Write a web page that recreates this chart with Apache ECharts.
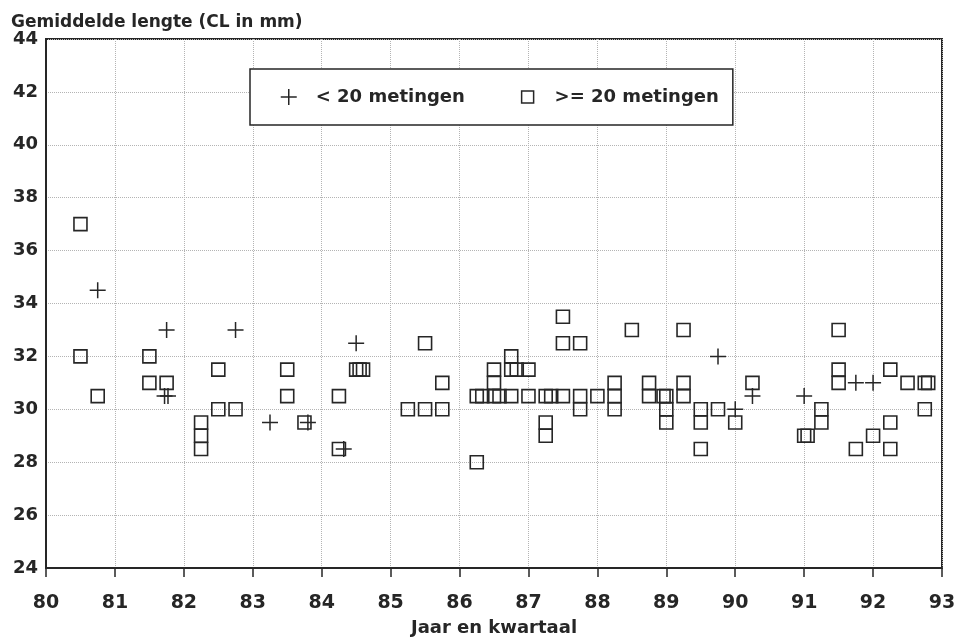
<!DOCTYPE html>
<html>
<head>
<meta charset="utf-8">
<title>Gemiddelde lengte</title>
<script src="https://cdn.jsdelivr.net/npm/echarts@6/dist/echarts.min.js"></script>
<style>
  html, body { margin: 0; padding: 0; background: #ffffff; }
  #chart { width: 963px; height: 642px; }
</style>
</head>
<body>
<div id="chart"></div>
<script>
// Quarterly mean carapace length (CL, mm); x = year + quarter fraction.
const xTicks = [80, 81, 82, 83, 84, 85, 86, 87, 88, 89, 90, 91, 92, 93];
const yTicks = [24, 26, 28, 30, 32, 34, 36, 38, 40, 42, 44];

// samples with fewer than 20 measurements
const fewMeasurements = [
  [80.75, 34.5], [81.75, 33], [81.72, 30.5], [81.77, 30.5], [82.75, 33],
  [83.25, 29.5], [83.8, 29.5], [84.32, 28.5], [84.5, 32.5],
  [89.75, 32], [90, 30], [90.25, 30.5], [91, 30.5], [91.75, 31], [92, 31]
];

// samples with 20 or more measurements
const manyMeasurements = [
  [80.5, 37], [80.5, 32], [80.75, 30.5],
  [81.5, 32], [81.5, 31], [81.75, 31],
  [82.25, 29.5], [82.25, 29], [82.25, 28.5], [82.5, 31.5], [82.5, 30], [82.75, 30],
  [83.5, 31.5], [83.5, 30.5], [83.75, 29.5],
  [84.25, 30.5], [84.25, 28.5], [84.5, 31.5], [84.55, 31.5], [84.6, 31.5],
  [85.25, 30], [85.5, 32.5], [85.5, 30], [85.75, 31], [85.75, 30],
  [86.25, 28], [86.25, 30.5], [86.33, 30.5], [86.5, 31.5], [86.5, 31], [86.5, 30.5],
  [86.58, 30.5], [86.75, 32], [86.75, 31.5], [86.75, 30.5], [86.83, 31.5],
  [87, 31.5], [87, 30.5], [87.25, 30.5], [87.25, 29.5], [87.25, 29], [87.33, 30.5],
  [87.5, 33.5], [87.5, 32.5], [87.5, 30.5], [87.75, 32.5], [87.75, 30.5], [87.75, 30],
  [88, 30.5], [88.25, 31], [88.25, 30.5], [88.25, 30], [88.5, 33],
  [88.75, 31], [88.75, 30.5], [88.96, 30.5], [89, 30.5], [89, 30], [89, 29.5],
  [89.25, 33], [89.25, 31], [89.25, 30.5], [89.5, 30], [89.5, 29.5], [89.5, 28.5],
  [89.75, 30], [90, 29.5], [90.25, 31],
  [91, 29], [91.05, 29], [91.25, 30], [91.25, 29.5],
  [91.5, 33], [91.5, 31.5], [91.5, 31], [91.75, 28.5], [92, 29],
  [92.25, 31.5], [92.25, 29.5], [92.25, 28.5], [92.5, 31],
  [92.75, 31], [92.8, 31], [92.75, 30]
];

const seriesNames = ['< 20 metingen', '>= 20 metingen'];

const ink = '#262626';
const gridInk = '#b4b4b4';
const font = 'DejaVu Sans';
const plusPath = 'path://M0,6L12,6M6,0L6,12';
const squarePath = 'path://M0,0L12,0L12,12L0,12Z';
// legend square: outer move-to keeps a margin so the drawn box stays smaller
const legendSquarePath = 'path://M0,0M16,16M2,2L14,2L14,14L2,14Z';

const chart = echarts.init(document.getElementById('chart'), null, { renderer: 'canvas' });

chart.setOption({
  backgroundColor: '#ffffff',
  animation: false,
  title: {
    text: 'Gemiddelde lengte (CL in mm)',
    left: 6,
    top: 9,
    textStyle: { fontFamily: font, fontWeight: 'bold', fontSize: 17, color: ink }
  },
  legend: {
    left: 250,
    top: 69,
    padding: [19, 14, 19, 30],
    itemGap: 54,
    itemWidth: 16,
    itemHeight: 16,
    borderColor: ink,
    borderWidth: 1.5,
    borderRadius: 0,
    backgroundColor: '#ffffff',
    textStyle: {
      fontFamily: font, fontWeight: 'bold', fontSize: 18, color: ink,
      padding: [0, 0, 0, 14]
    },
    data: [
      { name: seriesNames[0], icon: plusPath,
        itemStyle: { color: 'transparent', borderColor: ink, borderWidth: 1.5 } },
      { name: seriesNames[1], icon: legendSquarePath,
        itemStyle: { color: 'transparent', borderColor: ink, borderWidth: 1.5 } }
    ]
  },
  grid: {
    left: 46, right: 21, top: 39, bottom: 73,
    show: true, borderColor: ink, borderWidth: 2, backgroundColor: 'transparent'
  },
  xAxis: {
    type: 'value',
    min: xTicks[0],
    max: xTicks[xTicks.length - 1],
    interval: 1,
    name: 'Jaar en kwartaal',
    nameLocation: 'middle',
    nameGap: 51,
    nameTextStyle: { fontFamily: font, fontWeight: 'bold', fontSize: 18, color: ink },
    axisLine: { show: true, lineStyle: { color: ink, width: 2 } },
    axisTick: { show: true, length: 9, lineStyle: { color: ink, width: 1.5 } },
    axisLabel: {
      margin: 26, fontFamily: font, fontWeight: 'bold', fontSize: 19, color: ink,
      formatter: v => xTicks.includes(v) ? String(v) : ''
    },
    splitLine: { show: true, lineStyle: { color: gridInk, width: 1, type: 'dotted' } }
  },
  yAxis: {
    type: 'value',
    min: yTicks[0],
    max: yTicks[yTicks.length - 1],
    interval: 2,
    axisLine: { show: true, lineStyle: { color: ink, width: 2 } },
    axisTick: { show: false },
    axisLabel: {
      margin: 8, fontFamily: font, fontWeight: 'bold', fontSize: 18, color: ink,
      formatter: v => yTicks.includes(v) ? String(v) : ''
    },
    splitLine: { show: true, lineStyle: { color: gridInk, width: 1, type: 'dotted' } }
  },
  series: [
    {
      name: seriesNames[0],
      type: 'scatter',
      data: fewMeasurements,
      symbol: plusPath,
      symbolSize: 16,
      symbolKeepAspect: true,
      itemStyle: { color: 'transparent', borderColor: ink, borderWidth: 1.5, opacity: 1 },
      z: 3
    },
    {
      name: seriesNames[1],
      type: 'scatter',
      data: manyMeasurements,
      symbol: squarePath,
      symbolSize: 13,
      symbolKeepAspect: true,
      itemStyle: { color: 'transparent', borderColor: ink, borderWidth: 1.6, opacity: 1 },
      z: 2
    }
  ]
});
</script>
</body>
</html>
